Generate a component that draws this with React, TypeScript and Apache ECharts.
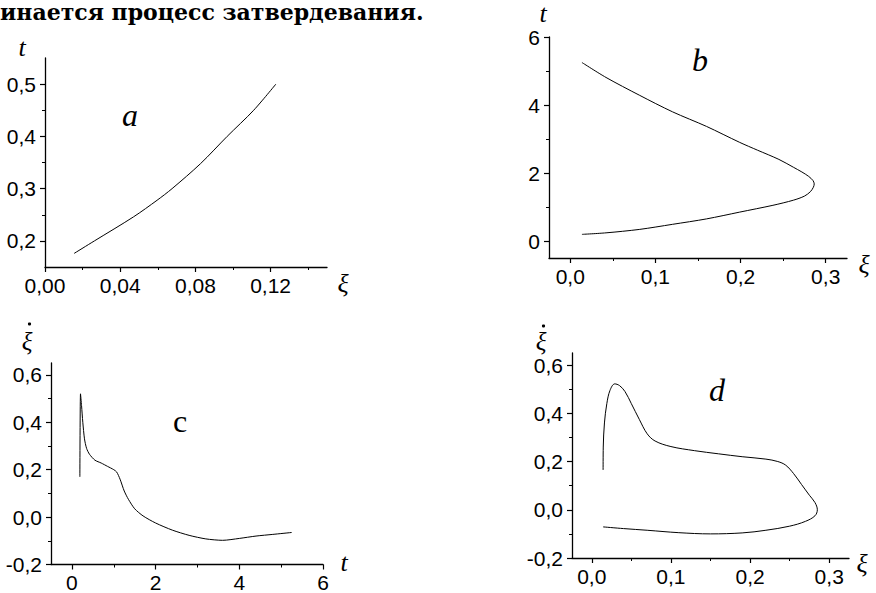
import React, { useEffect, useRef } from 'react';
import * as echarts from 'echarts';

const captionText = 'инается процесс затвердевания.';

// Panel a: t versus ξ
const aXi = [0.0155, 0.0263, 0.0471, 0.0596, 0.0676, 0.0827, 0.0969, 0.111, 0.1228];
const aT = [0.176, 0.2, 0.246, 0.2777, 0.3, 0.3477, 0.4, 0.45, 0.5];

// Panel b: t versus ξ (time-ordered)
const bXi = [0.0137, 0.042, 0.081, 0.12, 0.16, 0.199, 0.238, 0.262, 0.275, 0.282, 0.2855, 0.2865, 0.285, 0.28, 0.272, 0.262, 0.245, 0.22, 0.199, 0.16, 0.12, 0.081, 0.042, 0.0137];
const bT = [0.195, 0.24, 0.34, 0.49, 0.65, 0.85, 1.05, 1.2, 1.32, 1.45, 1.58, 1.68, 1.78, 1.9, 2.03, 2.17, 2.4, 2.67, 2.9, 3.37, 3.8, 4.29, 4.81, 5.25];

// Panel c: ξ̇ versus t
const cT = [0.19, 0.205, 0.23, 0.26, 0.3, 0.35, 0.42, 0.55, 0.7, 0.85, 1.0, 1.07, 1.15, 1.25, 1.35, 1.5, 1.7, 2.0, 2.4, 2.8, 3.2, 3.6, 4.0, 4.4, 4.8, 5.25];
const cXiDot = [0.17, 0.52, 0.47, 0.4, 0.33, 0.29, 0.265, 0.24, 0.228, 0.214, 0.2, 0.19, 0.16, 0.11, 0.075, 0.035, 0.005, -0.025, -0.055, -0.077, -0.092, -0.098, -0.09, -0.08, -0.073, -0.065];

// Panel d: ξ̇ versus ξ
const dXi = [0.0143, 0.0145, 0.016, 0.019, 0.023, 0.029, 0.035, 0.042, 0.05, 0.06, 0.07, 0.08, 0.1, 0.13, 0.16, 0.19, 0.22, 0.235, 0.245, 0.255, 0.265, 0.275, 0.282, 0.285, 0.282, 0.27, 0.25, 0.22, 0.19, 0.15, 0.11, 0.07, 0.04, 0.0143];
const dXiDot = [0.165, 0.26, 0.36, 0.44, 0.495, 0.522, 0.515, 0.49, 0.44, 0.375, 0.315, 0.285, 0.262, 0.245, 0.232, 0.22, 0.21, 0.2, 0.185, 0.15, 0.105, 0.06, 0.03, 0.0, -0.025, -0.048, -0.068, -0.085, -0.096, -0.1, -0.095, -0.085, -0.078, -0.071];

// Tick values
const aXMajor = [0, 0.04, 0.08, 0.12];
const aXMinor = [0.02, 0.06, 0.1, 0.14];
const aYMajor = [0.2, 0.3, 0.4, 0.5];
const aYMinor = [0.25, 0.35, 0.45];
const bXMajor = [0, 0.1, 0.2, 0.3];
const bXMinor = [0.05, 0.15, 0.25];
const bYMajor = [0, 2, 4, 6];
const bYMinor = [1, 3, 5];
const cXMajor = [0, 2, 4, 6];
const cXMinor = [1, 3, 5];
const cYMajor = [-0.2, 0, 0.2, 0.4, 0.6];
const cYMinor = [-0.1, 0.1, 0.3, 0.5];
const dXMajor = [0, 0.1, 0.2, 0.3];
const dXMinor = [0.05, 0.15, 0.25];
const dYMajor = [-0.2, 0, 0.2, 0.4, 0.6];
const dYMinor = [-0.1, 0.1, 0.3, 0.5];

const zip = (xs: number[], ys: number[]) => xs.map((x, i) => [x, ys[i]]);

const BLACK = '#000';
const TICK_FONT = 'Liberation Sans';

function majorAxis(
  dim: 'x' | 'y',
  gridIndex: number,
  min: number,
  max: number,
  major: number[],
  digits: number,
  showLine: boolean,
  labelValues?: number[]
) {
  const isX = dim === 'x';
  return {
    type: 'value',
    gridIndex,
    min,
    max,
    position: isX ? 'bottom' : 'left',
    axisLine: { show: showLine, onZero: false, lineStyle: { color: BLACK, width: 1.3 } },
    axisTick: { show: true, length: 5, lineStyle: { color: BLACK, width: 1.2 }, customValues: major },
    axisLabel: {
      show: true,
      customValues: labelValues || major,
      // only real tick values get a label; helper values stay empty
      formatter: (v: number) =>
        major.some((m) => Math.abs(m - v) < 1e-9) ? v.toFixed(digits).replace('.', ',') : '',
      color: BLACK,
      fontSize: 21,
      lineHeight: 20,
      fontFamily: TICK_FONT,
      margin: isX ? 8 : 9,
      hideOverlap: false,
    },
    splitLine: { show: false },
  };
}

function minorAxis(dim: 'x' | 'y', gridIndex: number, min: number, max: number, minor: number[], showLine: boolean) {
  return {
    type: 'value',
    gridIndex,
    min,
    max,
    position: dim === 'x' ? 'bottom' : 'left',
    axisLine: { show: showLine, onZero: false, lineStyle: { color: BLACK, width: 1.3 } },
    axisTick: { show: true, length: 3, lineStyle: { color: BLACK, width: 1 }, customValues: minor },
    axisLabel: { show: false },
    splitLine: { show: false },
  };
}

function label(text: string, x: number, y: number, font: string) {
  return {
    type: 'text',
    x,
    y,
    style: {
      text,
      font,
      fill: BLACK,
      align: 'center',
      verticalAlign: 'middle',
      textAlign: 'center',
      textVerticalAlign: 'middle',
    },
  };
}

function dot(x: number, y: number) {
  return { type: 'circle', shape: { cx: x, cy: y, r: 1.6 }, style: { fill: BLACK } };
}

export default function App() {
  const ref = useRef<HTMLDivElement>(null);

  useEffect(() => {
    if (!ref.current) return;
    const chart = echarts.init(ref.current, null, { renderer: 'svg' });
    const axisNameFont = 'italic 26px "Liberation Serif"';
    const dotNameFont = 'italic 25px "Liberation Serif"';
    const panelFont = 'italic 32px "Liberation Serif"';
    const lineSeries = (xi: number, yi: number, data: number[][], smooth: number) => ({
      type: 'line',
      xAxisIndex: xi,
      yAxisIndex: yi,
      data,
      showSymbol: false,
      symbol: 'none',
      smooth,
      lineStyle: { color: BLACK, width: 1 },
      silent: true,
    });

    // Panel a: plotting grid plus a twin strip (same scale) that carries the
    // major x ticks and labels; the strip starts further left so ξ = 0 is not
    // its first label.
    const aLeft = 45;
    const aTop = 58;
    const aWidth = 282;
    const aHeight = 209;
    const aXMin = 0;
    const aXMax = 0.15;
    const twinLeft = 10;
    const twinXMin = aXMin - ((aLeft - twinLeft) / aWidth) * (aXMax - aXMin);
    const twinLabelValues = [twinXMin, ...aXMajor];

    chart.setOption({
      animation: false,
      backgroundColor: '#fff',
      grid: [
        { left: aLeft, top: aTop, width: aWidth, height: aHeight },
        { left: 549, top: 37, width: 298, height: 221 },
        { left: 51, top: 363, width: 272, height: 202 },
        { left: 572, top: 353, width: 277, height: 205 },
        { left: twinLeft, top: aTop + aHeight - 1, width: aLeft + aWidth - twinLeft, height: 1 },
      ],
      xAxis: [
        minorAxis('x', 0, aXMin, aXMax, aXMinor, true),
        majorAxis('x', 4, twinXMin, aXMax, aXMajor, 2, false, twinLabelValues),
        majorAxis('x', 1, -0.025, 0.325, bXMajor, 1, true),
        minorAxis('x', 1, -0.025, 0.325, bXMinor, false),
        majorAxis('x', 2, -0.5, 6, cXMajor, 0, true),
        minorAxis('x', 2, -0.5, 6, cXMinor, false),
        majorAxis('x', 3, -0.025, 0.325, dXMajor, 1, true),
        minorAxis('x', 3, -0.025, 0.325, dXMinor, false),
      ],
      yAxis: [
        majorAxis('y', 0, 0.15, 0.55, aYMajor, 1, true),
        minorAxis('y', 0, 0.15, 0.55, aYMinor, false),
        majorAxis('y', 1, -0.5, 6, bYMajor, 0, true),
        minorAxis('y', 1, -0.5, 6, bYMinor, false),
        majorAxis('y', 2, -0.2, 0.65, cYMajor, 1, true),
        minorAxis('y', 2, -0.2, 0.65, cYMinor, false),
        majorAxis('y', 3, -0.2, 0.65, dYMajor, 1, true),
        minorAxis('y', 3, -0.2, 0.65, dYMinor, false),
        { type: 'value', gridIndex: 4, min: 0, max: 1, position: 'right', show: false },
      ],
      series: [
        lineSeries(0, 0, zip(aXi, aT), 0.3),
        lineSeries(2, 2, zip(bXi, bT), 0.3),
        lineSeries(4, 4, zip(cT, cXiDot), 0.25),
        lineSeries(6, 6, zip(dXi, dXiDot), 0.35),
      ],
      graphic: [
        {
          type: 'text',
          x: 0,
          y: 1,
          style: {
            text: captionText,
            font: 'bold 22px "DejaVu Serif"',
            fill: BLACK,
            align: 'left',
            verticalAlign: 'top',
            textAlign: 'left',
            textVerticalAlign: 'top',
          },
        },
        label('t', 22, 47, axisNameFont),
        label('ξ', 343, 283, axisNameFont),
        label('a', 130, 115, panelFont),
        label('t', 543, 13, axisNameFont),
        label('ξ', 864, 264, axisNameFont),
        label('b', 700, 60, panelFont),
        label('ξ', 27, 341, dotNameFont),
        dot(29.5, 324),
        label('t', 344, 562, axisNameFont),
        label('c', 180, 421, '32px "Liberation Serif"'),
        label('ξ', 541, 341, dotNameFont),
        dot(543.5, 326),
        label('ξ', 862, 563, axisNameFont),
        label('d', 717, 390, panelFont),
      ],
    });
    return () => chart.dispose();
  }, []);

  return (
    <div
      ref={ref}
      style={{ position: 'absolute', left: 0, top: 0, width: 876, height: 593, background: '#fff' }}
    />
  );
}
